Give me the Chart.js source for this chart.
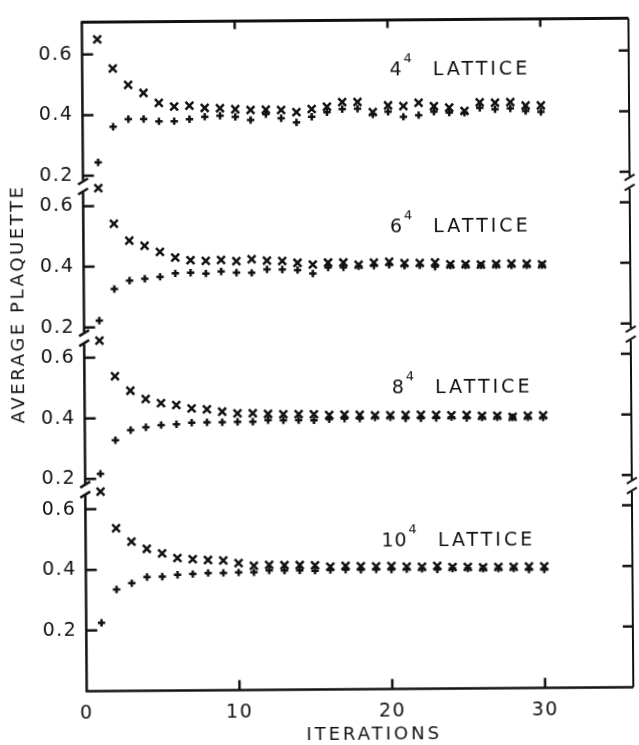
<!DOCTYPE html>
<html>
<head>
<meta charset="utf-8">
<script src="https://cdn.jsdelivr.net/npm/chart.js@4.4.0/dist/chart.umd.min.js"></script>
<style>
  html, body { margin: 0; padding: 0; background: #fff; overflow: hidden; }
  #wrap { width: 639px; height: 745px; transform: rotate(-0.42deg); transform-origin: 50% 50%; }
</style>
</head>
<body>
<div id="wrap"><canvas id="plaquette"></canvas></div>
<script>
const iterations = [1, 2, 3, 4, 5, 6, 7, 8, 9, 10, 11, 12, 13, 14, 15,
  16, 17, 18, 19, 20, 21, 22, 23, 24, 25, 26, 27, 28, 29, 30];

// lattice sizes, top panel first
const lattices = ["4", "6", "8", "10"];
// each panel is shifted up by half a unit on the shared y scale
const panelOffsets = [1.5, 1.0, 0.5, 0.0];

const yTickValues = [0.2, 0.4, 0.6];
const yTickLabels = ["0.2", "0.4", "0.6"];
const xTickValues = [0, 10, 20, 30];

// x marks (approach from above)
const above4 = [0.650, 0.553, 0.499, 0.472, 0.439, 0.426, 0.429, 0.421, 0.420, 0.416,
  0.413, 0.414, 0.412, 0.405, 0.415, 0.422, 0.437, 0.437, 0.403, 0.425,
  0.422, 0.433, 0.421, 0.416, 0.405, 0.433, 0.431, 0.433, 0.421, 0.421];
const above6 = [0.659, 0.541, 0.485, 0.468, 0.447, 0.428, 0.419, 0.417, 0.419, 0.415,
  0.421, 0.416, 0.414, 0.408, 0.402, 0.408, 0.408, 0.400, 0.407, 0.409,
  0.404, 0.404, 0.406, 0.399, 0.399, 0.398, 0.399, 0.400, 0.399, 0.397];
const above8 = [0.656, 0.538, 0.490, 0.462, 0.448, 0.442, 0.430, 0.427, 0.419, 0.413,
  0.413, 0.410, 0.409, 0.409, 0.408, 0.405, 0.406, 0.405, 0.403, 0.403,
  0.404, 0.404, 0.403, 0.401, 0.402, 0.399, 0.399, 0.395, 0.398, 0.399];
const above10 = [0.658, 0.537, 0.492, 0.468, 0.453, 0.437, 0.433, 0.430, 0.428, 0.419,
  0.410, 0.412, 0.411, 0.411, 0.410, 0.405, 0.407, 0.406, 0.405, 0.406,
  0.403, 0.402, 0.405, 0.401, 0.401, 0.399, 0.400, 0.400, 0.401, 0.401];

// + marks (approach from below)
const below4 = [0.244, 0.361, 0.386, 0.386, 0.378, 0.378, 0.384, 0.392, 0.395, 0.391,
  0.380, 0.399, 0.385, 0.371, 0.389, 0.404, 0.414, 0.415, 0.396, 0.404,
  0.387, 0.392, 0.403, 0.400, 0.399, 0.415, 0.410, 0.412, 0.403, 0.400];
const below6 = [0.222, 0.326, 0.353, 0.359, 0.365, 0.376, 0.378, 0.375, 0.381, 0.377,
  0.376, 0.387, 0.386, 0.384, 0.372, 0.392, 0.392, 0.395, 0.397, 0.399,
  0.396, 0.397, 0.392, 0.395, 0.395, 0.395, 0.395, 0.394, 0.394, 0.394];
const below8 = [0.217, 0.327, 0.360, 0.369, 0.376, 0.378, 0.383, 0.384, 0.384, 0.385,
  0.385, 0.390, 0.389, 0.389, 0.388, 0.391, 0.393, 0.393, 0.396, 0.396,
  0.392, 0.392, 0.393, 0.395, 0.392, 0.394, 0.394, 0.393, 0.393, 0.392];
const below10 = [0.225, 0.335, 0.355, 0.375, 0.376, 0.382, 0.384, 0.387, 0.387, 0.388,
  0.388, 0.394, 0.393, 0.393, 0.392, 0.394, 0.395, 0.394, 0.395, 0.394,
  0.395, 0.396, 0.393, 0.396, 0.396, 0.395, 0.395, 0.395, 0.391, 0.391];

const aboveSeries = [above4, above6, above8, above10];
const belowSeries = [below4, below6, below8, below10];

// "n^4 LATTICE" captions: iteration where LATTICE starts, panel value of the baseline
const captionPos = [
  { x: 22.95, y: 0.525 },
  { x: 22.9, y: 0.505 },
  { x: 22.95, y: 0.476 },
  { x: 23.05, y: 0.469 },
];

const FONT = '"DejaVu Sans", sans-serif';
const INK = "#111";

function points(values, offset) {
  return iterations.map((n, i) => ({ x: n, y: values[i] + offset }));
}

let datasets = [];
lattices.forEach((lat, p) => {
  datasets.push({
    label: lat + "^4 above",
    data: points(aboveSeries[p], panelOffsets[p]),
    pointStyle: "crossRot",
    pointRadius: 5.5,
    borderWidth: 2.5,
    borderColor: INK,
    backgroundColor: INK,
    showLine: false,
  });
  datasets.push({
    label: lat + "^4 below",
    data: points(belowSeries[p], panelOffsets[p]),
    pointStyle: "cross",
    pointRadius: 3.7,
    borderWidth: 2.5,
    borderColor: INK,
    backgroundColor: INK,
    showLine: false,
  });
});

// y ticks: 0.2 / 0.4 / 0.6 repeated for every panel
let yTicks = [];
let yTickText = [];
panelOffsets.forEach(off => {
  yTickValues.forEach((v, i) => {
    yTicks.push(off + v);
    yTickText.push(yTickLabels[i]);
  });
});

// break positions between panels
const breaks = panelOffsets.filter(o => o > 0).map(o => o + 0.165);

const framePlugin = {
  id: "frame",
  beforeDraw(chart) {
    chart.ctx.letterSpacing = "1.5px";
  },
  afterDatasetsDraw(chart) {
    const { ctx, chartArea: a, scales } = chart;
    const ys = scales.y, xs = scales.x;
    ctx.save();
    ctx.strokeStyle = INK;
    ctx.lineCap = "butt";

    // top and bottom lines
    ctx.lineWidth = 3;
    ctx.beginPath();
    ctx.moveTo(a.left - 1, a.top); ctx.lineTo(a.right, a.top);
    ctx.stroke();
    ctx.lineWidth = 2.5;
    ctx.beginPath();
    ctx.moveTo(a.left - 1, a.bottom); ctx.lineTo(a.right, a.bottom);
    ctx.stroke();

    // side lines, broken between panels
    const gaps = breaks.map(b => ys.getPixelForValue(b)).sort((p, q) => p - q);
    [a.left, a.right].forEach((x, side) => {
      ctx.lineWidth = side ? 2 : 2.5;
      let y0 = a.top;
      gaps.forEach(g => {
        ctx.beginPath();
        ctx.moveTo(x, y0); ctx.lineTo(x, g - 6);
        ctx.stroke();
        [-5, 5].forEach(d => {
          ctx.beginPath();
          ctx.moveTo(x - 5, g + d + 3);
          ctx.lineTo(x + 5, g + d - 3);
          ctx.stroke();
        });
        y0 = g + 6;
      });
      ctx.beginPath();
      ctx.moveTo(x, y0); ctx.lineTo(x, a.bottom);
      ctx.stroke();
    });

    // inward tick marks
    ctx.lineWidth = 2.5;
    yTicks.forEach(v => {
      const y = ys.getPixelForValue(v);
      ctx.beginPath();
      ctx.moveTo(a.left, y); ctx.lineTo(a.left + 11, y);
      ctx.moveTo(a.right, y); ctx.lineTo(a.right - 10, y);
      ctx.stroke();
    });
    xTickValues.forEach(v => {
      if (v === 0) return;
      const x = xs.getPixelForValue(v);
      ctx.beginPath();
      ctx.moveTo(x, a.bottom); ctx.lineTo(x, a.bottom - 10);
      ctx.moveTo(x, a.top); ctx.lineTo(x, a.top + 8);
      ctx.stroke();
    });

    ctx.fillStyle = INK;

    // axis titles
    ctx.font = "18px " + FONT;
    ctx.letterSpacing = "3px";
    ctx.textAlign = "center";
    ctx.textBaseline = "middle";
    ctx.fillText("ITERATIONS", 371.5, 735.5);
    ctx.save();
    ctx.translate(19, 303);
    ctx.rotate(-Math.PI / 2);
    ctx.letterSpacing = "2.6px";
    ctx.fillText("AVERAGE PLAQUETTE", 1.3, 0);
    ctx.restore();

    // captions
    ctx.textBaseline = "alphabetic";
    lattices.forEach((lat, p) => {
      const pos = captionPos[p];
      const xL = xs.getPixelForValue(pos.x);
      const yB = ys.getPixelForValue(pos.y + panelOffsets[p]);
      ctx.letterSpacing = "3px";
      ctx.font = "19px " + FONT;
      ctx.textAlign = "left";
      ctx.fillText("LATTICE", xL, yB);
      ctx.letterSpacing = "0px";
      ctx.font = "13px " + FONT;
      const supW = ctx.measureText("4").width;
      const supX = xL - 21 - supW;
      ctx.fillText("4", supX, yB - 13);
      ctx.font = "19px " + FONT;
      ctx.letterSpacing = "1px";
      const baseW = ctx.measureText(lat).width;
      ctx.fillText(lat, supX - 1 - baseW, yB);
    });
    ctx.restore();
  },
};

new Chart(document.getElementById("plaquette"), {
  type: "scatter",
  data: { datasets: datasets },
  options: {
    responsive: true,
    maintainAspectRatio: false,
    animation: false,
    events: [],
    layout: { padding: { top: 14, right: 2, bottom: 0, left: 0 } },
    plugins: { legend: { display: false }, tooltip: { enabled: false } },
    scales: {
      x: {
        type: "linear",
        min: 0,
        max: 35.77,
        grid: { display: false, drawTicks: false },
        border: { display: false },
        afterBuildTicks: s => { s.ticks = xTickValues.map(v => ({ value: v })); },
        afterFit: s => { s.height = 55.5; },
        ticks: {
          color: INK,
          padding: 11,
          font: { family: FONT, size: 19 },
          callback: v => String(v),
        },
      },
      y: {
        type: "linear",
        min: 0,
        max: 2.207,
        grid: { display: false, drawTicks: false },
        border: { display: false },
        afterBuildTicks: s => { s.ticks = yTicks.map(v => ({ value: v })); },
        afterFit: s => { s.width = 84.4; },
        ticks: {
          color: INK,
          padding: 9,
          font: { family: FONT, size: 19 },
          callback: (v, i) => yTickText[i],
        },
      },
    },
  },
  plugins: [framePlugin],
});
</script>
</body>
</html>
